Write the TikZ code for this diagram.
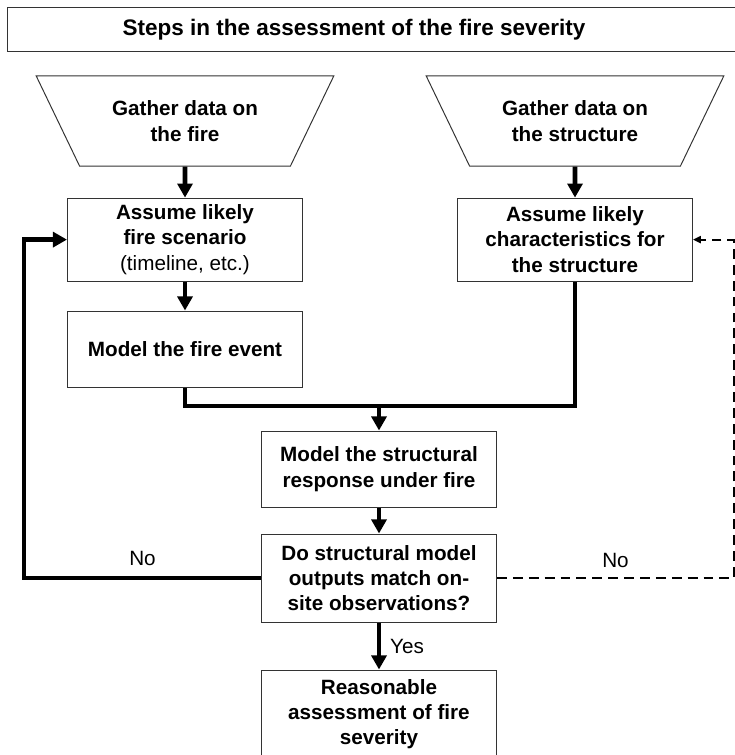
\documentclass[tikz,border=0pt]{standalone}
\usepackage{fontspec}
\setmainfont{Liberation Sans}
\usepackage{tikz}
\usetikzlibrary{shapes.geometric,arrows.meta,positioning}

\begin{document}
\begin{tikzpicture}[
    x=0.025cm, y=-0.025cm,
    box/.style={rectangle, draw=black!80, line width=0.7pt, minimum width=5.875cm, align=center, font=\fontsize{14.7}{18}\selectfont\bfseries},
    gather/.style={trapezium, shape border rotate=180, trapezium stretches=true, trapezium left angle=57.4, trapezium right angle=57.4, draw=black!80, line width=0.7pt, minimum width=7.45cm, minimum height=2.25cm, align=center, font=\fontsize{14.7}{18}\selectfont\bfseries},
    flow/.style={line width=3.3pt, -{Triangle[length=10pt, width=10.6pt]}},
    flowline/.style={line width=3.3pt},
    retry/.style={line width=1.5pt, dash pattern=on 7pt off 4.3pt, -{Triangle[length=5.5pt, width=5pt]}},
    answer/.style={font=\fontsize{14.7}{18}\selectfont},
]
    \clip (0,0) rectangle (735,755);

    % Title
    \node[draw=black!80, line width=0.7pt, minimum width=18.425cm, minimum height=1.0875cm] (hdr) at (376.5,29.5) {};
    \node[font=\fontsize{16}{19}\selectfont\bfseries] (title) at (354,30) {Steps in the assessment of the fire severity};

    % Data
    \node[gather] (gfire) at (185,121) {Gather data on\\the fire};
    \node[gather] (gstruct) at (575,121) {Gather data on\\the structure};

    % Boxes
    \node[box, minimum height=2.075cm, yshift=-1.5pt] (scen) at (185,237.5) {Assume likely\\fire scenario\\\mdseries (timeline, etc.)};
    \node[box, minimum height=2.075cm, yshift=-1.5pt] (schar) at (575,237.5) {Assume likely\\characteristics for\\the structure};
    \node[box, minimum height=1.9cm] (fevent) at (185,349) {Model the fire event};
    \node[box, minimum height=1.9cm] (sresp) at (379,469) {Model the structural\\response under fire};
    \node[box, minimum height=2.2cm] (decide) at (379,578) {Do structural model\\outputs match on-\\site observations?};
    \node[box, minimum height=2.2cm] (result) at (379,714) {Reasonable\\assessment of fire\\severity};

    \coordinate (mrg) at (379,406);
    \coordinate (lloop) at (24,400);
    \coordinate (rloop) at (734,400);

    % Arrows
    \draw[flow] (gfire.south) -- (scen.north);
    \draw[flow] (gstruct.south) -- (schar.north);
    \draw[flow] (scen.south) -- (fevent.north);
    \draw[flowline] (fevent.south) |- (mrg) -| (schar.south);
    \draw[flow] (mrg) -- (sresp.north);
    \draw[flow] (sresp.south) -- (decide.north);
    \draw[flow] (decide.south) -- node[answer, right=3pt] {Yes} (result.north);
    \draw[flow] (decide.west) -| node[answer, pos=0.25, above=3.5pt] {No} (lloop) |- (scen.west);
    \draw[retry] (decide.east) -| node[answer, pos=0.25, above=3.5pt] {No} (rloop) |- (schar.east);
\end{tikzpicture}
\end{document}
